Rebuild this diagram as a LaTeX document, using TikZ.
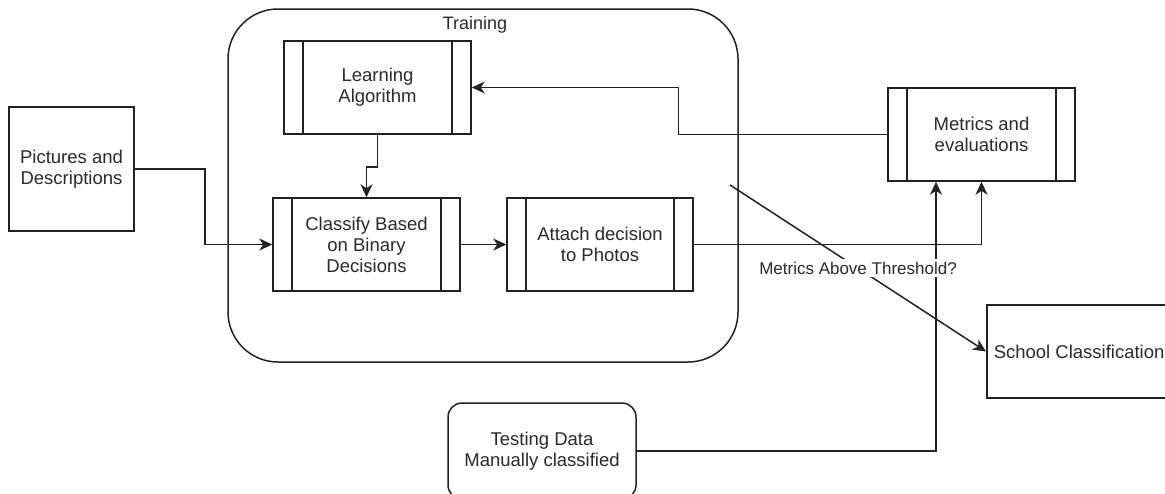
\documentclass[tikz,border=0pt]{standalone}
\usepackage{fontspec}
\setmainfont{Liberation Sans}
\usetikzlibrary{arrows.meta,calc}
\definecolor{ink}{HTML}{222222}
\definecolor{txt}{HTML}{2a2a2a}
\begin{document}
\begin{tikzpicture}[x=1pt,y=-1pt,
  every node/.style={font=\fontsize{18.5}{21}\selectfont, text=txt, align=center, inner sep=0pt},
  line/.style={draw=ink, line width=1.5pt},
  arr/.style={line, -{Stealth[length=13pt,width=12pt,inset=4pt]}},
  plainbox/.style={draw=ink, line width=1.5pt},
  procbox/.style={draw=ink, line width=1.5pt, minimum width=187pt, minimum height=93pt,
    path picture={\draw[ink, line width=1.5pt]
      ([xshift=19pt]path picture bounding box.north west) -- ([xshift=19pt]path picture bounding box.south west)
      ([xshift=-19pt]path picture bounding box.north east) -- ([xshift=-19pt]path picture bounding box.south east);}},
  edgelabel/.style={font=\fontsize{17}{20}\selectfont, fill=white, inner xsep=1pt, inner ysep=3pt}
]
\useasboundingbox (0,0) rectangle (1165,493);

% container
\node[plainbox, rounded corners=50pt, minimum width=510pt, minimum height=353pt] (train) at (483,185.5) {};
\node[font=\fontsize{18}{21}\selectfont] (trainlbl) at (475,25) {Training};

% boxes
\node[plainbox, minimum width=125pt, minimum height=124pt] (pics) at (71.5,169) {Pictures and\\Descriptions};
\node[procbox] (learn) at (377.5,87.5) {Learning\\Algorithm};
\node[procbox] (classify) at (366.5,244.5) {Classify Based\\on Binary\\Decisions};
\node[procbox, minimum width=186pt] (attach) at (600,244.5) {Attach decision\\to Photos};
\node[procbox] (metrics) at (981.5,134.5) {Metrics and\\evaluations};
\node[plainbox, rounded corners=14pt, minimum width=188pt, minimum height=96pt] (testing) at (542,451) {Testing Data\\Manually classified};
\node[plainbox, anchor=west, minimum height=93pt, inner xsep=7pt] (school) at (986,351.5) {School Classification};

% connectors
\draw[arr] (pics.east) -- ++(70,0) |- (classify.west);
\draw[arr] (learn.south) -- ++(0,32) -| (classify.north);
\draw[arr] (classify.east) -- (attach.west);
\draw[arr] (metrics.west) -- ++(-209,0) |- (learn.east);
\draw[arr] (attach.east) -| (metrics.south);
\draw[arr] (testing.east) -| ([xshift=-45.5pt]metrics.south);
\coordinate (dstart) at (730,185);
\draw[arr] (dstart) -- node[edgelabel, pos=0.5] (thr) {Metrics Above Threshold?} (school.west);
\end{tikzpicture}
\end{document}
